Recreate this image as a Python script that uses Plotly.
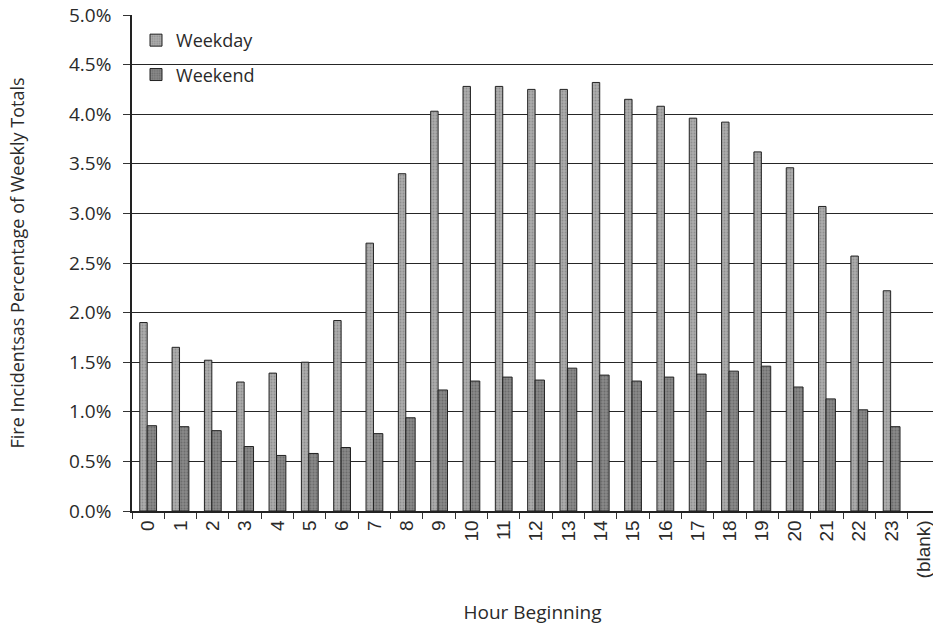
import plotly.graph_objects as go

hours = [str(h) for h in range(24)] + ["(blank)"]
weekday = [1.90, 1.65, 1.52, 1.30, 1.39, 1.50, 1.92, 2.70, 3.40, 4.03, 4.28, 4.28,
           4.25, 4.25, 4.32, 4.15, 4.08, 3.96, 3.92, 3.62, 3.46, 3.07, 2.57, 2.22, None]
weekend = [0.86, 0.85, 0.81, 0.65, 0.56, 0.58, 0.64, 0.78, 0.94, 1.22, 1.31, 1.35,
           1.32, 1.44, 1.37, 1.31, 1.35, 1.38, 1.41, 1.46, 1.25, 1.13, 1.02, 0.85, None]
yticks = [0.0, 0.5, 1.0, 1.5, 2.0, 2.5, 3.0, 3.5, 4.0, 4.5, 5.0]

font = "Open Sans, Liberation Sans, sans-serif"
txt = "#2a2a2a"

fig = go.Figure()
fig.add_trace(go.Bar(
    x=hours, y=weekday, name="Weekday", legendgroup="a",
    width=0.23, offset=-0.26,
    marker=dict(color="#acacac", line=dict(color="#222222", width=1),
                pattern=dict(shape=".", fgcolor="#707070", size=3, solidity=0.3)),
))
fig.add_trace(go.Bar(
    x=hours, y=weekend, name="Weekend", legendgroup="b",
    width=0.29, offset=-0.03,
    marker=dict(color="#888888", line=dict(color="#222222", width=1),
                pattern=dict(shape=".", fgcolor="#505050", size=3, solidity=0.35)),
))

fig.update_layout(
    width=933, height=627,
    margin=dict(l=132, r=0, t=15, b=116),
    paper_bgcolor="white", plot_bgcolor="white",
    font=dict(family=font, size=18, color=txt),
    barmode="overlay",
    showlegend=True,
    legend=dict(x=0.005, y=0.986, xanchor="left", yanchor="top",
                bgcolor="rgba(0,0,0,0)", font=dict(size=18, color=txt),
                tracegroupgap=8, itemwidth=30),
)
fig.update_xaxes(
    type="category", range=[-0.5, 24.28], automargin=False,
    tickangle=-90, tickson="boundaries",
    ticks="outside", ticklen=6, tickcolor="#333333",
    showline=True, linecolor="#222222", linewidth=1.5,
    showgrid=False,
    tickfont=dict(family="Liberation Sans, Arial, sans-serif", size=19, color=txt),
    title=dict(text="Hour Beginning", font=dict(size=19, color=txt), standoff=28),
)
fig.update_yaxes(
    range=[0, 5.0], tickvals=yticks, automargin=False,
    ticktext=[f"{v:.1f}%" for v in yticks],
    ticks="outside", ticklen=7, tickcolor="#333333",
    ticklabelstandoff=8,
    showline=True, linecolor="#222222", linewidth=1.5,
    showgrid=True, gridcolor="#262626", gridwidth=1.2,
    zeroline=False,
    tickfont=dict(size=19, color=txt),
    title=dict(text="Fire Incidentsas Percentage of Weekly Totals",
               font=dict(size=18, color=txt), standoff=40),
)

fig.write_html("out.html", config={"displayModeBar": False},
               post_script="document.body.style.margin='0px';")
